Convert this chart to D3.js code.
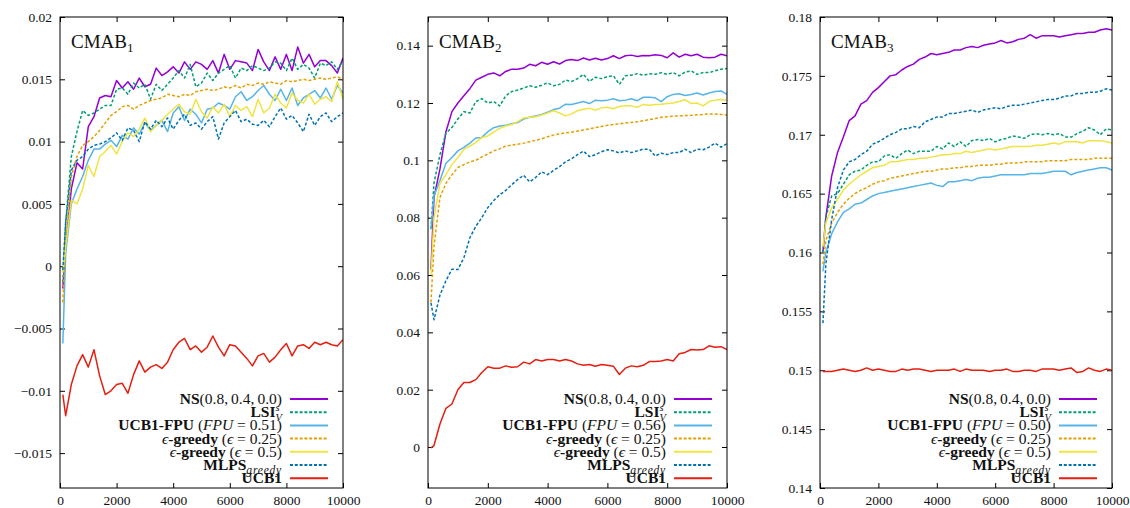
<!DOCTYPE html>
<html><head><meta charset="utf-8">
<script src="https://cdn.jsdelivr.net/npm/d3@7"></script>
<style>body{margin:0;background:#fff}text{white-space:pre}</style>
</head><body>
<svg id="chart" width="1130" height="508"></svg>
<script>
// ---------------- DATA ----------------
const steps = [100,200,400,600,800,1000,1200,1400,1600,1800,2000,2200,2400,2600,2800,3000,3200,3400,3600,3800,4000,4200,4400,4600,4800,5000,5200,5400,5600,5800,6000,6200,6400,6600,6800,7000,7200,7400,7600,7800,8000,8200,8400,8600,8800,9000,9200,9400,9600,9800,10000];

// CMAB1
const p1NS   = [-0.0018,0.0015,0.0062,0.0083,0.0078,0.0112,0.0120,0.0135,0.0137,0.0136,0.0149,0.0143,0.0148,0.0142,0.0151,0.0144,0.0146,0.0159,0.0153,0.0156,0.0160,0.0155,0.0164,0.0158,0.0164,0.0162,0.0158,0.0165,0.0155,0.0170,0.0158,0.0165,0.0164,0.0163,0.0157,0.0174,0.0164,0.0157,0.0168,0.0158,0.0170,0.0157,0.0176,0.0163,0.0170,0.0160,0.0165,0.0165,0.0161,0.0155,0.0167];
const p1LSI  = [-0.0013,0.0035,0.0088,0.0108,0.0125,0.0121,0.0123,0.0126,0.0129,0.0129,0.0142,0.0143,0.0138,0.0147,0.0143,0.0146,0.0134,0.0146,0.0141,0.0146,0.0151,0.0157,0.0151,0.0162,0.0144,0.0147,0.0155,0.0149,0.0155,0.0158,0.0161,0.0151,0.0159,0.0157,0.0161,0.0159,0.0157,0.0159,0.0164,0.0163,0.0157,0.0167,0.0158,0.0162,0.0159,0.0151,0.0163,0.0161,0.0164,0.0158,0.0165];
const p1FPU  = [-0.0062,0.0010,0.0050,0.0062,0.0072,0.0085,0.0094,0.0094,0.0098,0.0101,0.0096,0.0105,0.0102,0.0111,0.0106,0.0115,0.0109,0.0113,0.0117,0.0108,0.0123,0.0128,0.0117,0.0126,0.0122,0.0115,0.0126,0.0127,0.0131,0.0129,0.0126,0.0136,0.0140,0.0133,0.0136,0.0141,0.0145,0.0138,0.0133,0.0142,0.0133,0.0143,0.0129,0.0135,0.0138,0.0141,0.0135,0.0143,0.0134,0.0145,0.0139];
const p1E25  = [-0.0029,0.0020,0.0072,0.0088,0.0097,0.0100,0.0104,0.0109,0.0115,0.0121,0.0124,0.0128,0.0129,0.0126,0.0129,0.0131,0.0133,0.0134,0.0135,0.0138,0.0137,0.0136,0.0138,0.0137,0.0140,0.0141,0.0142,0.0141,0.0142,0.0144,0.0143,0.0145,0.0143,0.0146,0.0145,0.0147,0.0146,0.0148,0.0147,0.0146,0.0149,0.0148,0.0149,0.0150,0.0149,0.0150,0.0151,0.0150,0.0151,0.0152,0.0150];
const p1E50  = [-0.0005,0.0015,0.0053,0.0050,0.0062,0.0081,0.0072,0.0088,0.0092,0.0097,0.0090,0.0100,0.0107,0.0104,0.0110,0.0119,0.0108,0.0113,0.0117,0.0122,0.0126,0.0130,0.0124,0.0122,0.0134,0.0124,0.0119,0.0128,0.0123,0.0130,0.0120,0.0129,0.0125,0.0128,0.0120,0.0134,0.0123,0.0127,0.0138,0.0131,0.0127,0.0139,0.0133,0.0131,0.0138,0.0130,0.0134,0.0136,0.0132,0.0148,0.0134];
const p1MLPS = [-0.0003,0.0035,0.0077,0.0085,0.0088,0.0094,0.0097,0.0098,0.0100,0.0103,0.0107,0.0101,0.0111,0.0109,0.0100,0.0116,0.0110,0.0117,0.0112,0.0119,0.0110,0.0117,0.0122,0.0113,0.0115,0.0110,0.0116,0.0120,0.0102,0.0115,0.0120,0.0125,0.0116,0.0118,0.0114,0.0113,0.0117,0.0112,0.0120,0.0127,0.0118,0.0121,0.0115,0.0108,0.0122,0.0113,0.0120,0.0123,0.0116,0.0120,0.0123];
const p1UCB1 = [-0.0103,-0.0120,-0.0095,-0.0080,-0.0071,-0.0081,-0.0067,-0.0088,-0.0103,-0.0100,-0.0095,-0.0094,-0.0102,-0.0087,-0.0076,-0.0085,-0.0081,-0.0079,-0.0082,-0.0077,-0.0067,-0.0061,-0.0058,-0.0067,-0.0064,-0.0069,-0.0065,-0.0056,-0.0065,-0.0072,-0.0063,-0.0064,-0.0069,-0.0074,-0.0080,-0.0072,-0.0070,-0.0077,-0.0073,-0.0067,-0.0062,-0.0072,-0.0064,-0.0063,-0.0066,-0.0061,-0.0063,-0.0061,-0.0063,-0.0064,-0.0059];

// CMAB2
const p2NS   = [0.0620,0.0870,0.0970,0.1100,0.1170,0.1200,0.1225,0.1250,0.1280,0.1290,0.1300,0.1305,0.1295,0.1310,0.1318,0.1318,0.1322,0.1335,0.1330,0.1342,0.1335,0.1344,0.1336,0.1348,0.1352,0.1348,0.1357,0.1350,0.1356,0.1350,0.1355,0.1365,0.1355,0.1365,0.1367,0.1362,0.1366,0.1365,0.1368,0.1366,0.1358,0.1375,0.1360,0.1370,0.1365,0.1370,0.1360,0.1358,0.1360,0.1370,0.1365];
const p2LSI  = [0.0760,0.0920,0.1020,0.1095,0.1115,0.1144,0.1170,0.1165,0.1205,0.1215,0.1200,0.1205,0.1190,0.1225,0.1240,0.1245,0.1252,0.1260,0.1255,0.1262,0.1270,0.1260,0.1265,0.1280,0.1275,0.1285,0.1300,0.1275,0.1290,0.1285,0.1292,0.1295,0.1265,0.1295,0.1297,0.1302,0.1297,0.1302,0.1300,0.1306,0.1300,0.1306,0.1295,0.1308,0.1312,0.1300,0.1306,0.1306,0.1312,0.1318,0.1320];
const p2FPU  = [0.0760,0.0876,0.0930,0.0990,0.1010,0.1033,0.1045,0.1060,0.1078,0.1080,0.1100,0.1114,0.1120,0.1122,0.1128,0.1132,0.1144,0.1150,0.1155,0.1160,0.1168,0.1177,0.1182,0.1196,0.1195,0.1200,0.1205,0.1198,0.1210,0.1208,0.1210,0.1215,0.1208,0.1210,0.1215,0.1208,0.1220,0.1220,0.1218,0.1205,0.1222,0.1230,0.1232,0.1226,0.1230,0.1235,0.1228,0.1235,0.1240,0.1242,0.1230];
const p2E25  = [0.0505,0.0700,0.0870,0.0920,0.0950,0.0975,0.0985,0.0995,0.1000,0.1012,0.1022,0.1033,0.1040,0.1050,0.1053,0.1056,0.1060,0.1065,0.1070,0.1075,0.1082,0.1088,0.1092,0.1096,0.1098,0.1102,0.1106,0.1110,0.1114,0.1118,0.1122,0.1125,0.1127,0.1130,0.1132,0.1135,0.1138,0.1142,0.1146,0.1150,0.1152,0.1154,0.1155,0.1156,0.1157,0.1159,0.1160,0.1162,0.1162,0.1160,0.1158];
const p2E50  = [0.0600,0.0800,0.0920,0.0950,0.0985,0.1010,0.1038,0.1050,0.1062,0.1080,0.1085,0.1098,0.1112,0.1120,0.1125,0.1135,0.1148,0.1150,0.1152,0.1158,0.1165,0.1173,0.1165,0.1155,0.1162,0.1173,0.1178,0.1182,0.1175,0.1183,0.1185,0.1180,0.1188,0.1190,0.1190,0.1185,0.1195,0.1192,0.1195,0.1196,0.1198,0.1200,0.1205,0.1212,0.1198,0.1200,0.1190,0.1205,0.1210,0.1212,0.1210];
const p2MLPS = [0.0503,0.0444,0.0530,0.0580,0.0620,0.0619,0.0660,0.0730,0.0770,0.0800,0.0835,0.0860,0.0880,0.0895,0.0915,0.0933,0.0948,0.0925,0.0940,0.0960,0.0950,0.0965,0.0978,0.0995,0.1005,0.1020,0.1032,0.1013,0.1020,0.1030,0.1037,0.1033,0.1026,0.1033,0.1027,0.1033,0.1039,0.1039,0.1015,0.1025,0.1020,0.1027,0.1027,0.1039,0.1027,0.1039,0.1037,0.1046,0.1060,0.1046,0.1058];
const p2UCB1 = [-0.0003,0.0005,0.0080,0.0135,0.0150,0.0200,0.0225,0.0225,0.0235,0.0260,0.0280,0.0275,0.0275,0.0283,0.0278,0.0280,0.0296,0.0290,0.0305,0.0300,0.0305,0.0305,0.0300,0.0305,0.0300,0.0290,0.0285,0.0288,0.0282,0.0288,0.0285,0.0282,0.0253,0.0275,0.0283,0.0280,0.0285,0.0298,0.0298,0.0300,0.0305,0.0300,0.0325,0.0330,0.0340,0.0338,0.0340,0.0353,0.0348,0.0350,0.0340];

// CMAB3
const p3NS   = [0.1600,0.1630,0.1665,0.1685,0.1698,0.1712,0.1716,0.1726,0.1729,0.1736,0.1740,0.1745,0.1750,0.1751,0.1755,0.1758,0.1760,0.1764,0.1766,0.1769,0.1768,0.1769,0.1770,0.1772,0.1772,0.1774,0.1775,0.1774,0.1776,0.1777,0.1778,0.1780,0.1778,0.1779,0.1781,0.1782,0.1785,0.1782,0.1784,0.1784,0.1784,0.1783,0.1784,0.1785,0.1786,0.1786,0.1787,0.1787,0.1789,0.1790,0.1789];
const p3LSI  = [0.1600,0.1630,0.1648,0.1650,0.1658,0.1666,0.1669,0.1670,0.1674,0.1677,0.1677,0.1682,0.1683,0.1680,0.1684,0.1687,0.1684,0.1686,0.1686,0.1686,0.1690,0.1688,0.1693,0.1690,0.1694,0.1690,0.1695,0.1696,0.1695,0.1697,0.1694,0.1696,0.1697,0.1699,0.1698,0.1697,0.1700,0.1701,0.1700,0.1701,0.1700,0.1701,0.1698,0.1698,0.1701,0.1703,0.1706,0.1704,0.1700,0.1705,0.1704];
const p3FPU  = [0.1584,0.1600,0.1616,0.1626,0.1634,0.1637,0.1641,0.1642,0.1645,0.1648,0.1650,0.1651,0.1652,0.1653,0.1654,0.1655,0.1656,0.1657,0.1658,0.1659,0.1657,0.1656,0.1660,0.1660,0.1661,0.1662,0.1661,0.1663,0.1664,0.1664,0.1665,0.1666,0.1666,0.1666,0.1666,0.1666,0.1667,0.1667,0.1667,0.1668,0.1669,0.1669,0.1669,0.1666,0.1668,0.1669,0.1670,0.1671,0.1672,0.1672,0.1670];
const p3E25  = [0.1590,0.1610,0.1625,0.1634,0.1641,0.1646,0.1650,0.1653,0.1655,0.1658,0.1660,0.1661,0.1663,0.1664,0.1665,0.1666,0.1667,0.1668,0.1669,0.1669,0.1670,0.1671,0.1671,0.1672,0.1672,0.1673,0.1673,0.1674,0.1674,0.1674,0.1675,0.1675,0.1676,0.1676,0.1676,0.1677,0.1677,0.1677,0.1677,0.1678,0.1678,0.1678,0.1678,0.1679,0.1679,0.1679,0.1679,0.1680,0.1680,0.1680,0.1680];
const p3E50  = [0.1605,0.1625,0.1638,0.1645,0.1653,0.1658,0.1662,0.1666,0.1669,0.1672,0.1673,0.1674,0.1677,0.1677,0.1678,0.1679,0.1679,0.1680,0.1680,0.1681,0.1682,0.1683,0.1683,0.1684,0.1684,0.1686,0.1685,0.1686,0.1687,0.1688,0.1687,0.1688,0.1689,0.1690,0.1690,0.1690,0.1690,0.1691,0.1691,0.1692,0.1693,0.1692,0.1694,0.1694,0.1694,0.1693,0.1695,0.1695,0.1695,0.1694,0.1693];
const p3MLPS = [0.1540,0.1590,0.1628,0.1655,0.1670,0.1677,0.1679,0.1683,0.1686,0.1692,0.1694,0.1697,0.1700,0.1702,0.1705,0.1705,0.1707,0.1706,0.1711,0.1713,0.1715,0.1715,0.1718,0.1718,0.1719,0.1720,0.1721,0.1719,0.1721,0.1722,0.1723,0.1722,0.1724,0.1725,0.1725,0.1726,0.1727,0.1728,0.1729,0.1730,0.1730,0.1731,0.1733,0.1733,0.1735,0.1735,0.1736,0.1736,0.1737,0.1739,0.1738];
const p3UCB1 = [0.1499,0.1499,0.1499,0.1500,0.1501,0.1500,0.1499,0.1500,0.1502,0.1500,0.1501,0.1500,0.1499,0.1499,0.1501,0.1500,0.1501,0.1501,0.1500,0.1499,0.1500,0.1500,0.1500,0.1501,0.1499,0.1501,0.1500,0.1500,0.1500,0.1499,0.1500,0.1500,0.1501,0.1499,0.1499,0.1500,0.1500,0.1499,0.1501,0.1501,0.1501,0.1500,0.1501,0.1502,0.1498,0.1499,0.1502,0.1500,0.1499,0.1501,0.1500];

// ticks
const xTicks = [0,2000,4000,6000,8000,10000];
const xTickLabels = ["0","2000","4000","6000","8000","10000"];
const p1YTicks = [-0.015,-0.01,-0.005,0,0.005,0.01,0.015,0.02];
const p1YLabels = ["\u22120.015","\u22120.01","\u22120.005","0","0.005","0.01","0.015","0.02"];
const p2YTicks = [0,0.02,0.04,0.06,0.08,0.1,0.12,0.14];
const p2YLabels = ["0","0.02","0.04","0.06","0.08","0.1","0.12","0.14"];
const p3YTicks = [0.14,0.145,0.15,0.155,0.16,0.165,0.17,0.175,0.18];
const p3YLabels = ["0.14","0.145","0.15","0.155","0.16","0.165","0.17","0.175","0.18"];

const titles = ["1","2","3"];           // CMAB subscripts
const fpuValues = ["0.51","0.56","0.50"];

// ---------------- DRAW ----------------
const colors = ["#9400d3","#009e73","#56b4e9","#e69f00","#f0e442","#0072b2","#e51e10"];
const dashed = [false,true,false,true,false,true,false];

const panels = [
  {left:60,  right:343,   top:17, bottom:488, ydom:[-0.0178,0.02],  yt:p1YTicks, yl:p1YLabels,
   series:[p1NS,p1LSI,p1FPU,p1E25,p1E50,p1MLPS,p1UCB1]},
  {left:428, right:727,   top:17, bottom:488, ydom:[-0.0143,0.15],  yt:p2YTicks, yl:p2YLabels,
   series:[p2NS,p2LSI,p2FPU,p2E25,p2E50,p2MLPS,p2UCB1]},
  {left:820, right:1112,  top:17, bottom:488, ydom:[0.14,0.18],     yt:p3YTicks, yl:p3YLabels,
   series:[p3NS,p3LSI,p3FPU,p3E25,p3E50,p3MLPS,p3UCB1]}
];

const serif = "'Liberation Serif','Times New Roman',serif";
const svg = d3.select("#chart");

function legendSegments(pi){
  return [
    [["NS","b"],["(0.8,\u20090.4,\u20090.0)","r"]],
    [["LSI","b"],["s","sup"],["V","substack"]],
    [["UCB1-FPU","b"],[" (","r"],["FPU","i"],[" = "+fpuValues[pi]+")","r"]],
    [["\u03f5","i"],["-greedy","b"],[" (","r"],["\u03f5","i"],[" = 0.25)","r"]],
    [["\u03f5","i"],["-greedy","b"],[" (","r"],["\u03f5","i"],[" = 0.5)","r"]],
    [["MLPS","b"],["greedy","sub"]],
    [["UCB1","b"]]
  ];
}

panels.forEach((p,pi)=>{
  const w = p.right-p.left, h = p.bottom-p.top;
  const g = svg.append("g").attr("transform",`translate(${p.left},${p.top})`);
  const x = d3.scaleLinear().domain([0,10000]).range([0,w]);
  const y = d3.scaleLinear().domain(p.ydom).range([h,0]);

  g.append("clipPath").attr("id","clip"+pi).append("rect").attr("width",w).attr("height",h);

  // axes (inward ticks, mirrored)
  const styleAxis = sel => { sel.select(".domain").remove();
    sel.attr("font-family",serif).attr("font-size",13.5);
    sel.selectAll("text").attr("fill","#111");
    sel.selectAll("line").attr("stroke","#000"); };
  g.append("g").attr("transform",`translate(0,${h})`)
    .call(d3.axisBottom(x).tickValues(xTicks).tickFormat((d,i)=>xTickLabels[i]).tickSizeInner(-5).tickSizeOuter(0).tickPadding(7))
    .call(styleAxis);
  g.append("g")
    .call(d3.axisTop(x).tickValues(xTicks).tickFormat("").tickSizeInner(-5).tickSizeOuter(0))
    .call(styleAxis);
  g.append("g")
    .call(d3.axisLeft(y).tickValues(p.yt).tickFormat((d,i)=>p.yl[i]).tickSizeInner(-5).tickSizeOuter(0).tickPadding(8))
    .call(styleAxis);
  g.append("g").attr("transform",`translate(${w},0)`)
    .call(d3.axisRight(y).tickValues(p.yt).tickFormat("").tickSizeInner(-5).tickSizeOuter(0))
    .call(styleAxis);

  // series
  const line = d3.line().x(d=>x(d[0])).y(d=>y(d[1]));
  const lg = g.append("g").attr("clip-path",`url(#clip${pi})`);
  p.series.forEach((vals,si)=>{
    lg.append("path").datum(d3.zip(steps,vals))
      .attr("d",line).attr("fill","none")
      .attr("stroke",colors[si]).attr("stroke-width",1.5)
      .attr("stroke-linejoin","round")
      .attr("stroke-dasharray",dashed[si]?"3,2":null);
  });

  // border
  g.append("rect").attr("width",w).attr("height",h).attr("fill","none").attr("stroke","#000").attr("stroke-width",1);

  // title
  const t = g.append("text").attr("x",11).attr("y",31).attr("font-family",serif).attr("font-size",19).attr("fill","#111");
  t.append("tspan").text("CMAB");
  t.append("tspan").attr("font-size",13).attr("dy",4).text(titles[pi]);

  // legend
  const segs = legendSegments(pi);
  segs.forEach((row,ri)=>{
    const ly = 382 + ri*13.2;
    g.append("line").attr("x1",w-53).attr("x2",w-15).attr("y1",ly).attr("y2",ly)
      .attr("stroke",colors[ri]).attr("stroke-width",2)
      .attr("stroke-dasharray",dashed[ri]?"3,1.8":null);
    const tx = g.append("text").attr("x",w-61).attr("y",ly+5).attr("text-anchor","end")
      .attr("font-family",serif).attr("font-size",15.5).attr("fill","#111");
    row.forEach(([s,k])=>{
      const ts = tx.append("tspan").text(s);
      if(k==="b") ts.attr("font-weight","bold");
      if(k==="i") ts.attr("font-style","italic");
      if(k==="sup") ts.attr("font-style","italic").attr("font-size",10.5).attr("dy",-6);
      if(k==="substack") ts.attr("font-style","italic").attr("font-size",10.5).attr("dx",-4).attr("dy",10);
      if(k==="sub") ts.attr("font-style","italic").attr("font-size",11.5).attr("dy",4).attr("letter-spacing",0.8);
    });
  });
});
</script>
</body></html>
